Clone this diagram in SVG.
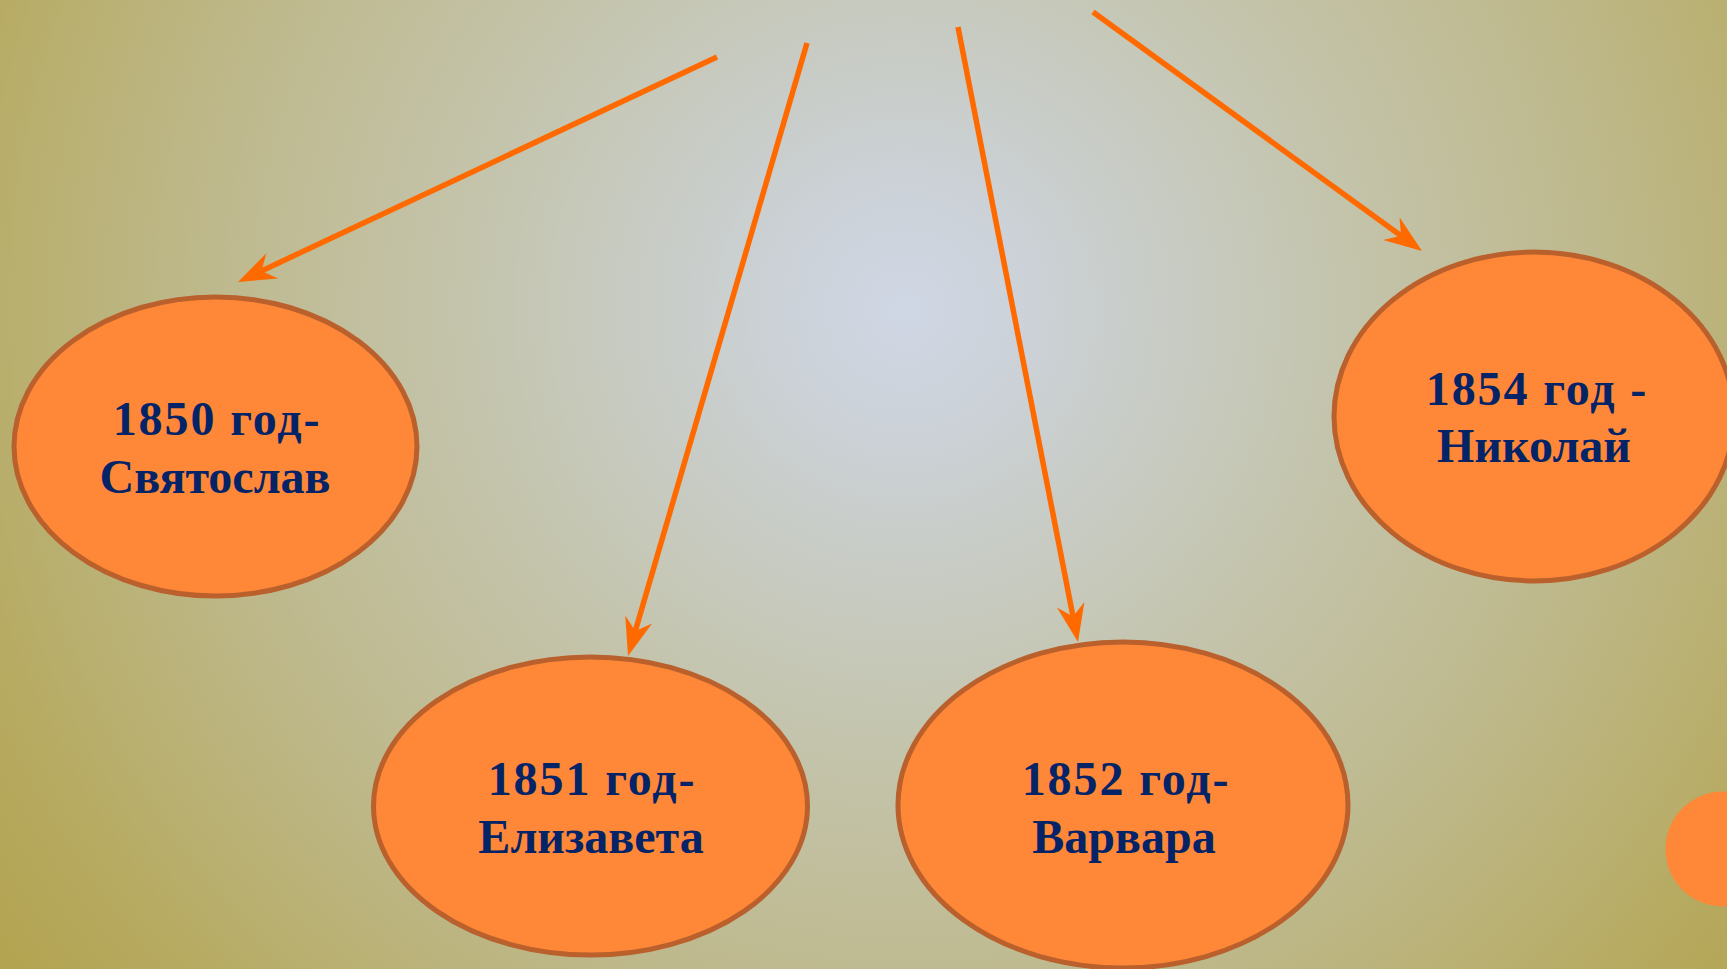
<svg xmlns="http://www.w3.org/2000/svg" width="1727" height="969" viewBox="0 0 1727 969">
  <style>
    .node { fill: #fe8738; stroke: #b9602c; stroke-width: 5; }
    .lbl { font-family: "Liberation Serif", "Times New Roman", serif; font-weight: bold; font-size: 48px; fill: #042467; text-anchor: middle; }
    .l1 { letter-spacing: 1.9px; }
    .conn { stroke: #ff6a00; stroke-width: 5.5; fill: none; marker-end: url(#arr); }
  </style>
  <defs>
    <radialGradient id="bg" gradientUnits="userSpaceOnUse" cx="905" cy="310" r="1130">
      <stop offset="0" stop-color="#d0d7e5"/>
      <stop offset="0.12" stop-color="#cbd1d6"/>
      <stop offset="0.35" stop-color="#c5c6b2"/>
      <stop offset="0.65" stop-color="#bdb787"/>
      <stop offset="0.85" stop-color="#b7ab63"/>
      <stop offset="1" stop-color="#b2a34e"/>
    </radialGradient>
    <marker id="arr" markerUnits="userSpaceOnUse" markerWidth="40" markerHeight="30" refX="12" refY="14" orient="auto" overflow="visible">
      <path d="M38,14 L0,0 L12,14 L0,28 Z" fill="#ff6a00"/>
    </marker>
  </defs>
  <rect x="0" y="0" width="1727" height="969" fill="url(#bg)"/>

  <g id="connectors">
    <line class="conn" x1="717" y1="57" x2="261.5" y2="270.9"/>
    <line class="conn" x1="807" y1="43" x2="635.3" y2="631"/>
    <line class="conn" x1="958" y1="27" x2="1073" y2="616.5"/>
    <line class="conn" x1="1093" y1="12" x2="1401" y2="235.7"/>
  </g>

  <g id="node-1850">
    <ellipse class="node" cx="215.5" cy="446.5" rx="201.5" ry="149.5"/>
    <text class="lbl l1" x="217" y="435">1850 год-</text>
    <text class="lbl" x="215" y="493">Святослав</text>
  </g>

  <g id="node-1851">
    <ellipse class="node" cx="590.5" cy="806" rx="217" ry="149"/>
    <text class="lbl l1" x="592" y="795">1851 год-</text>
    <text class="lbl" x="591" y="853">Елизавета</text>
  </g>

  <g id="node-1852">
    <ellipse class="node" cx="1123" cy="805" rx="225" ry="163"/>
    <text class="lbl l1" x="1126" y="795">1852 год-</text>
    <text class="lbl" x="1124" y="853">Варвара</text>
  </g>

  <g id="node-1854">
    <ellipse class="node" cx="1534" cy="416.5" rx="200" ry="164.5"/>
    <text class="lbl l1" x="1537" y="405">1854 год -</text>
    <text class="lbl" x="1534" y="462">Николай</text>
  </g>

  <g id="corner-dot">
    <circle cx="1723" cy="849" r="57.5" fill="#fe8738"/>
  </g>
</svg>
